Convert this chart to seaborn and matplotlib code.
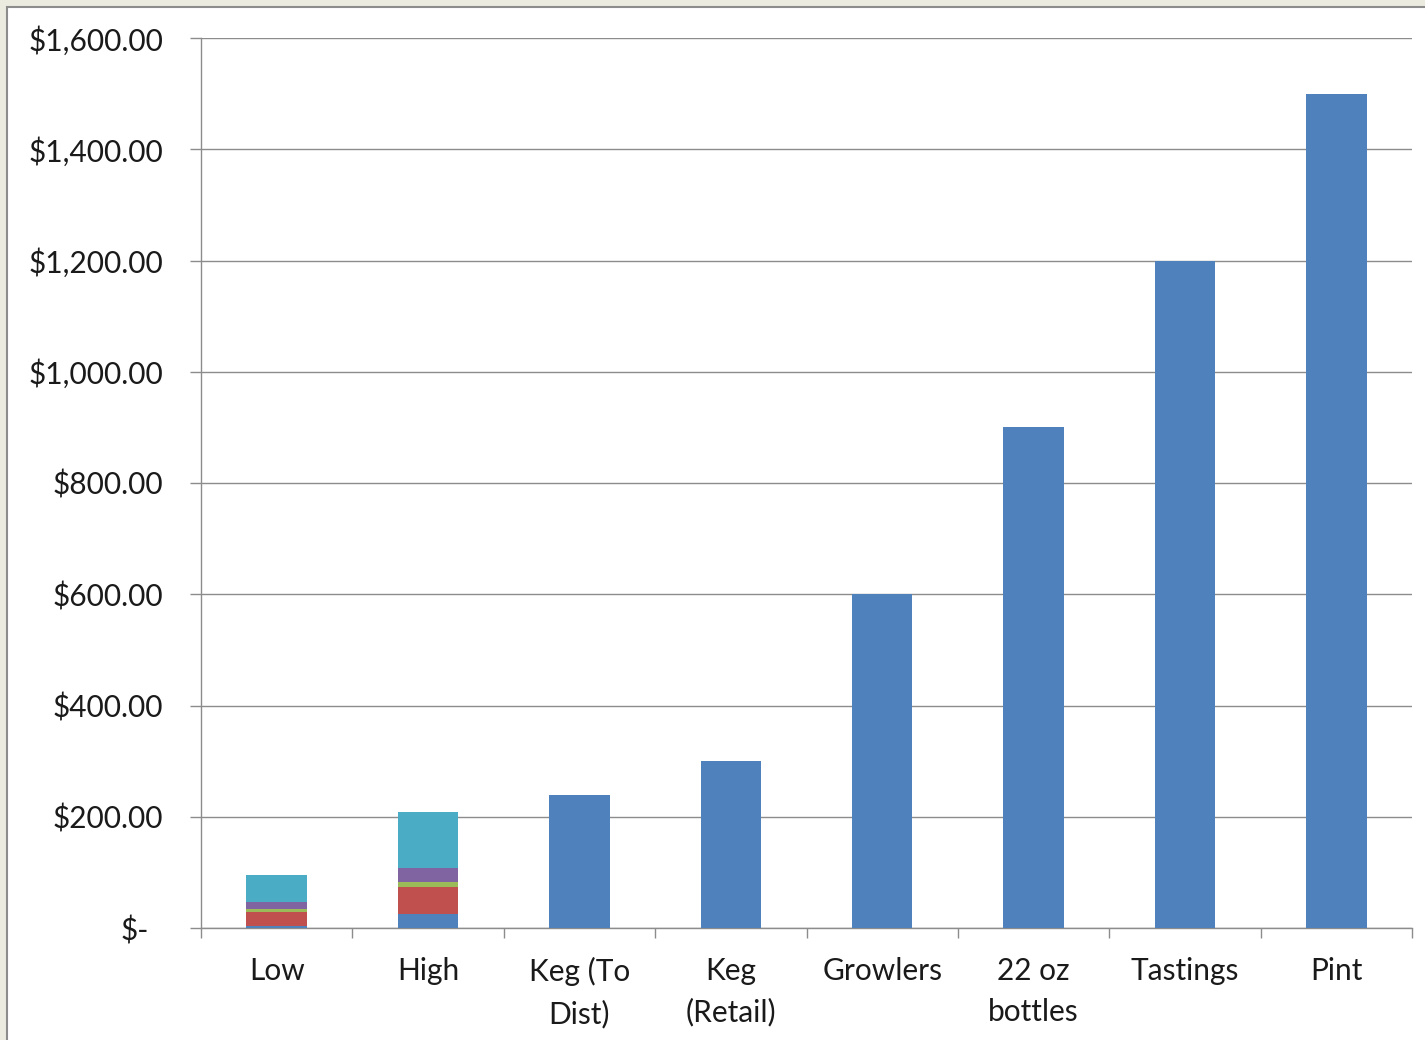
import numpy as np
import pandas as pd
import seaborn as sns
import matplotlib
matplotlib.use("Agg")
import matplotlib.pyplot as plt
from matplotlib.patches import Rectangle
from matplotlib.transforms import ScaledTranslation

# Revenue per barrel by channel; the first two bars are stacked cost breakdowns
categories = ["Low", "High", "Keg (To\nDist)", "Keg\n(Retail)", "Growlers",
              "22 oz\nbottles", "Tastings", "Pint"]
series_1 = [3, 26, 240, 300, 600, 900, 1200, 1500]
series_2 = [25, 48, 0, 0, 0, 0, 0, 0]
series_3 = [7, 9, 0, 0, 0, 0, 0, 0]
series_4 = [11, 25, 0, 0, 0, 0, 0, 0]
series_5 = [50, 100, 0, 0, 0, 0, 0, 0]
y_ticks = [0, 200, 400, 600, 800, 1000, 1200, 1400, 1600]
y_tick_labels = ["$-", "$200.00", "$400.00", "$600.00", "$800.00",
                 "$1,000.00", "$1,200.00", "$1,400.00", "$1,600.00"]

series = [series_1, series_2, series_3, series_4, series_5]
colors = ["#4F81BD", "#C0504D", "#9BBB59", "#8064A2", "#4BACC6"]

sns.set_theme(style="white")
plt.rcParams["font.family"] = ["Lato", "DejaVu Sans"]

fig = plt.figure(figsize=(14.25, 10.4), dpi=100, facecolor="#EBEBE0")
# white chart panel with a thin gray frame, kept behind the axes
panel = Rectangle((7 / 1425, -0.01), 1.02, 1 - 7 / 1040 + 0.01,
                  transform=fig.transFigure, facecolor="white",
                  edgecolor="#8C8C8C", linewidth=1.5, zorder=-10)
fig.add_artist(panel)

ax = fig.add_axes([201 / 1425, 1 - 928 / 1040, 1211 / 1425, 890 / 1040])
ax.set_facecolor("white")

# stacked bars: draw cumulative totals from the top segment down
cum = np.cumsum(np.array(series), axis=0)
for i in range(len(series) - 1, -1, -1):
    df = pd.DataFrame({"category": categories, "value": cum[i]})
    sns.barplot(data=df, x="category", y="value", color=colors[i],
                saturation=1, width=0.4, linewidth=0, ax=ax,
                zorder=3 + (len(series) - i))

ax.set_xlim(-0.5, len(categories) - 0.5)
ax.set_ylim(0, 1600)
ax.set_xlabel("")
ax.set_ylabel("")

ax.set_yticks(y_ticks)
ax.set_yticklabels(y_tick_labels, fontsize=21.5, color="#1A1A1A")
ax.tick_params(axis="y", direction="out", length=8, width=1.0,
               color="#8C8C8C", pad=19, left=True)
ax.yaxis.grid(True, color="#8C8C8C", linewidth=1.0, zorder=0)
ax.set_axisbelow(True)

# shift the zero label left, like accounting format
zero_lbl = ax.get_yticklabels()[0]
zero_lbl.set_transform(zero_lbl.get_transform() +
                       ScaledTranslation(-0.15, 0, fig.dpi_scale_trans))

ax.set_xticks(range(len(categories)))
ax.set_xticklabels(categories, fontsize=21.5, color="#1A1A1A", linespacing=1.55)
ax.tick_params(axis="x", which="major", length=0, pad=21)
ax.set_xticks(np.arange(-0.5, len(categories), 1), minor=True)
ax.tick_params(axis="x", which="minor", direction="out", length=7,
               width=1.0, color="#8C8C8C", bottom=True)

for side in ["top", "right"]:
    ax.spines[side].set_visible(False)
for side in ["left", "bottom"]:
    ax.spines[side].set_color("#8C8C8C")
    ax.spines[side].set_linewidth(1.0)

fig.savefig("out.png", dpi=100, facecolor=fig.get_facecolor())
